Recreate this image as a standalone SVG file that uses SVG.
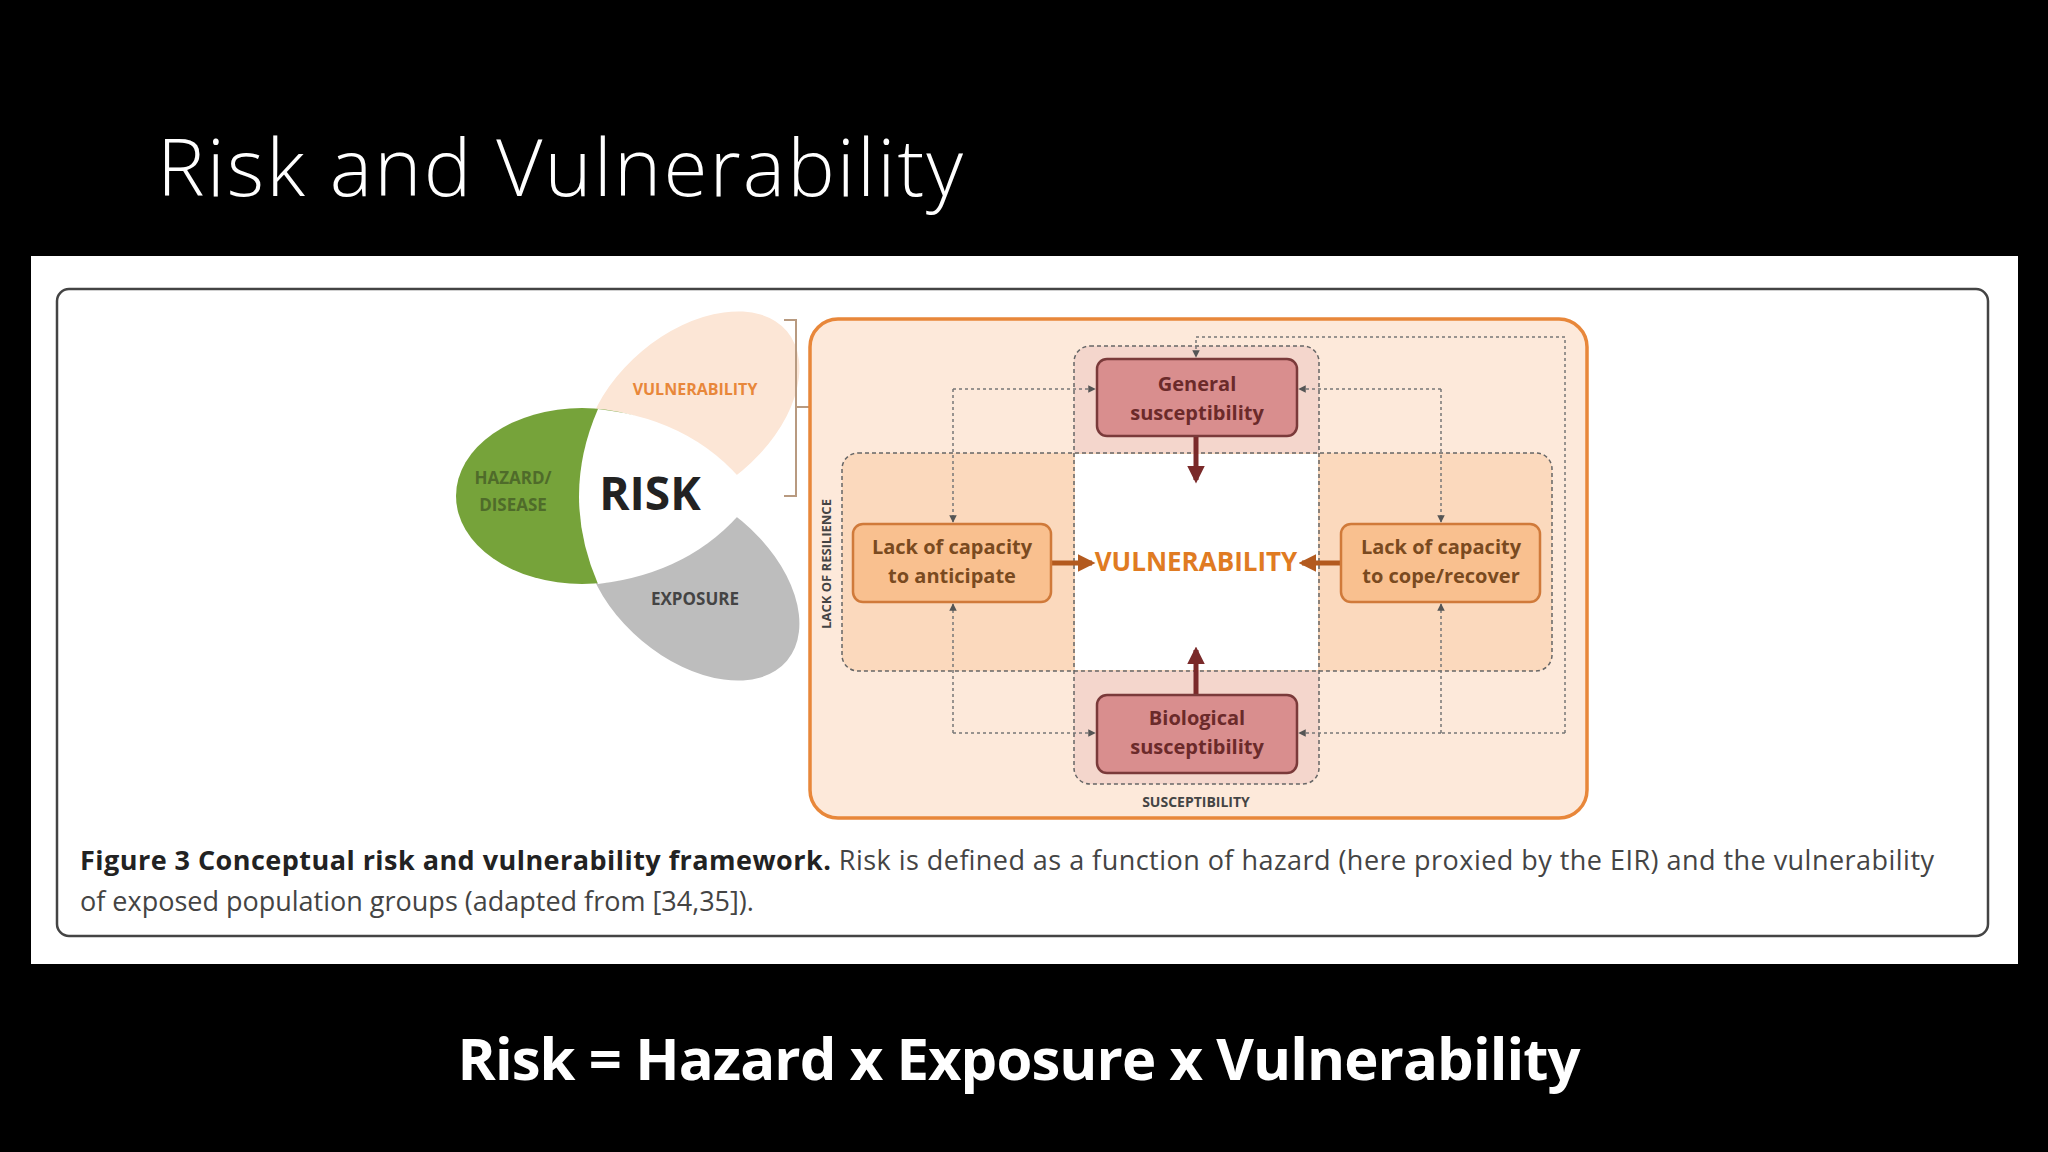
<svg xmlns="http://www.w3.org/2000/svg" width="2048" height="1152" viewBox="0 0 2048 1152">
<defs>
<style>
.lbl{font-family:"Open Sans","Liberation Sans",sans-serif;font-weight:bold;text-anchor:middle}
.box{font-family:"Open Sans","Liberation Sans",sans-serif;font-weight:bold;font-size:20px;text-anchor:middle}
.dot{fill:none;stroke:#777;stroke-width:1.5;stroke-dasharray:3 3}
</style>
<marker id="sa" viewBox="0 0 10 10" refX="9" refY="5" markerWidth="5" markerHeight="5" orient="auto"><path d="M0,0L10,5L0,10z" fill="#555"/></marker>
<marker id="ba" viewBox="0 0 10 10" refX="8" refY="5" markerWidth="3.5" markerHeight="3.5" orient="auto"><path d="M0,0L10,5L0,10z" fill="context-stroke"/></marker>
</defs>
<rect width="2048" height="1152" fill="#000"/>
<text x="157" y="196" font-family="Open Sans, Liberation Sans, sans-serif" font-weight="300" font-size="80" fill="#fff" textLength="806">Risk and Vulnerability</text>
<rect x="31" y="256" width="1987" height="708" fill="#fff"/>
<rect x="57" y="289" width="1931" height="647" rx="12" fill="#fff" stroke="#444" stroke-width="2.5"/>

<g id="venn">
<ellipse cx="692" cy="581" rx="124" ry="78" transform="rotate(40 692 581)" fill="#bdbdbd"/>
<ellipse cx="692" cy="411" rx="124" ry="78" transform="rotate(-40 692 411)" fill="#fce6d6"/>
<ellipse cx="582" cy="496" rx="126" ry="88" fill="#76a33a"/>
<path d="M598,409 Q700,420 754,496 Q700,572 598,584 Q560,496 598,409Z" fill="#fff"/>
<text class="lbl" x="695" y="395" font-size="16" fill="#e8873a">VULNERABILITY</text>
<text class="lbl" x="513" y="484" font-size="17" fill="#4f6b2a">HAZARD/</text>
<text class="lbl" x="513" y="511" font-size="17" fill="#4f6b2a">DISEASE</text>
<text class="lbl" x="650" y="510" font-size="46" fill="#222">RISK</text>
<text class="lbl" x="695" y="605" font-size="17" fill="#444">EXPOSURE</text>
<path d="M784,320 H796 V496 H784 M796,407 H810" fill="none" stroke="#b89a80" stroke-width="2"/>
</g>

<g id="frame">
<rect x="810" y="319" width="777" height="499" rx="28" fill="#fde9da" stroke="#e8873a" stroke-width="3.5"/>
<rect x="1074" y="346" width="245" height="438" rx="16" fill="#f4d6cc" stroke="#666" stroke-width="1.5" stroke-dasharray="4 3"/>
<rect x="842" y="453" width="710" height="218" rx="16" fill="#fbd9bd" stroke="#666" stroke-width="1.5" stroke-dasharray="4 3"/>
<rect x="1075" y="454" width="243" height="216" fill="#fff"/>
<path d="M1074,453 V671 M1319,453 V671" stroke="#666" stroke-width="1.5" stroke-dasharray="4 3"/>
<text class="lbl" x="1196" y="807" font-size="14" fill="#444">SUSCEPTIBILITY</text>
<text class="lbl" x="0" y="0" font-size="13" fill="#444" transform="translate(831 564) rotate(-90)">LACK OF RESILIENCE</text>
</g>

<g id="connectors">
<path class="dot" d="M953,389 H1095" marker-end="url(#sa)"/>
<path class="dot" d="M953,389 V522" marker-end="url(#sa)"/>
<path class="dot" d="M953,733 H1095" marker-end="url(#sa)"/>
<path class="dot" d="M953,733 V604" marker-end="url(#sa)"/>
<path class="dot" d="M1441,389 H1299" marker-end="url(#sa)"/>
<path class="dot" d="M1441,389 V522" marker-end="url(#sa)"/>
<path class="dot" d="M1441,733 H1299" marker-end="url(#sa)"/>
<path class="dot" d="M1441,733 V604" marker-end="url(#sa)"/>
<path class="dot" d="M1565,733 V337 H1196 V357" marker-end="url(#sa)"/>
<path class="dot" d="M1565,733 H1441"/>
<path d="M1196,437 V480" stroke="#7a2a2a" stroke-width="5" marker-end="url(#ba)"/>
<path d="M1196,695 V650" stroke="#7a2a2a" stroke-width="5" marker-end="url(#ba)"/>
<path d="M1052,563 H1092" stroke="#b35a1f" stroke-width="5" marker-end="url(#ba)"/>
<path d="M1340,563 H1302" stroke="#b35a1f" stroke-width="5" marker-end="url(#ba)"/>
</g>

<g id="general">
<rect x="1097" y="359" width="200" height="77" rx="10" fill="#d98e8e" stroke="#7a3a3a" stroke-width="2.5"/>
<text class="box" x="1197" y="391" fill="#6b2a2a">General</text>
<text class="box" x="1197" y="420" fill="#6b2a2a">susceptibility</text>
</g>
<g id="biological">
<rect x="1097" y="695" width="200" height="78" rx="10" fill="#d98e8e" stroke="#7a3a3a" stroke-width="2.5"/>
<text class="box" x="1197" y="725" fill="#6b2a2a">Biological</text>
<text class="box" x="1197" y="754" fill="#6b2a2a">susceptibility</text>
</g>
<g id="anticipate">
<rect x="853" y="524" width="198" height="78" rx="10" fill="#f9c08f" stroke="#d07a3a" stroke-width="2.5"/>
<text class="box" x="952" y="554" fill="#7a4a20">Lack of capacity</text>
<text class="box" x="952" y="583" fill="#7a4a20">to anticipate</text>
</g>
<g id="cope">
<rect x="1341" y="524" width="199" height="78" rx="10" fill="#f9c08f" stroke="#d07a3a" stroke-width="2.5"/>
<text class="box" x="1441" y="554" fill="#7a4a20">Lack of capacity</text>
<text class="box" x="1441" y="583" fill="#7a4a20">to cope/recover</text>
</g>
<g id="vulnerability">
<text class="lbl" x="1196" y="571" font-size="26" fill="#e07b22">VULNERABILITY</text>
</g>

<text x="80" y="870" font-family="Open Sans, Liberation Sans, sans-serif" font-size="27" fill="#444" textLength="1854"><tspan font-weight="bold" fill="#222">Figure 3 Conceptual risk and vulnerability framework.</tspan> Risk is defined as a function of hazard (here proxied by the EIR) and the vulnerability</text>
<text x="80" y="911" font-family="Open Sans, Liberation Sans, sans-serif" font-size="27" fill="#444">of exposed population groups (adapted from [34,35]).</text>

<text x="1019" y="1080" text-anchor="middle" font-family="Open Sans, Liberation Sans, sans-serif" font-weight="bold" font-size="58" fill="#fff" textLength="1123">Risk = Hazard x Exposure x Vulnerability</text>
</svg>
